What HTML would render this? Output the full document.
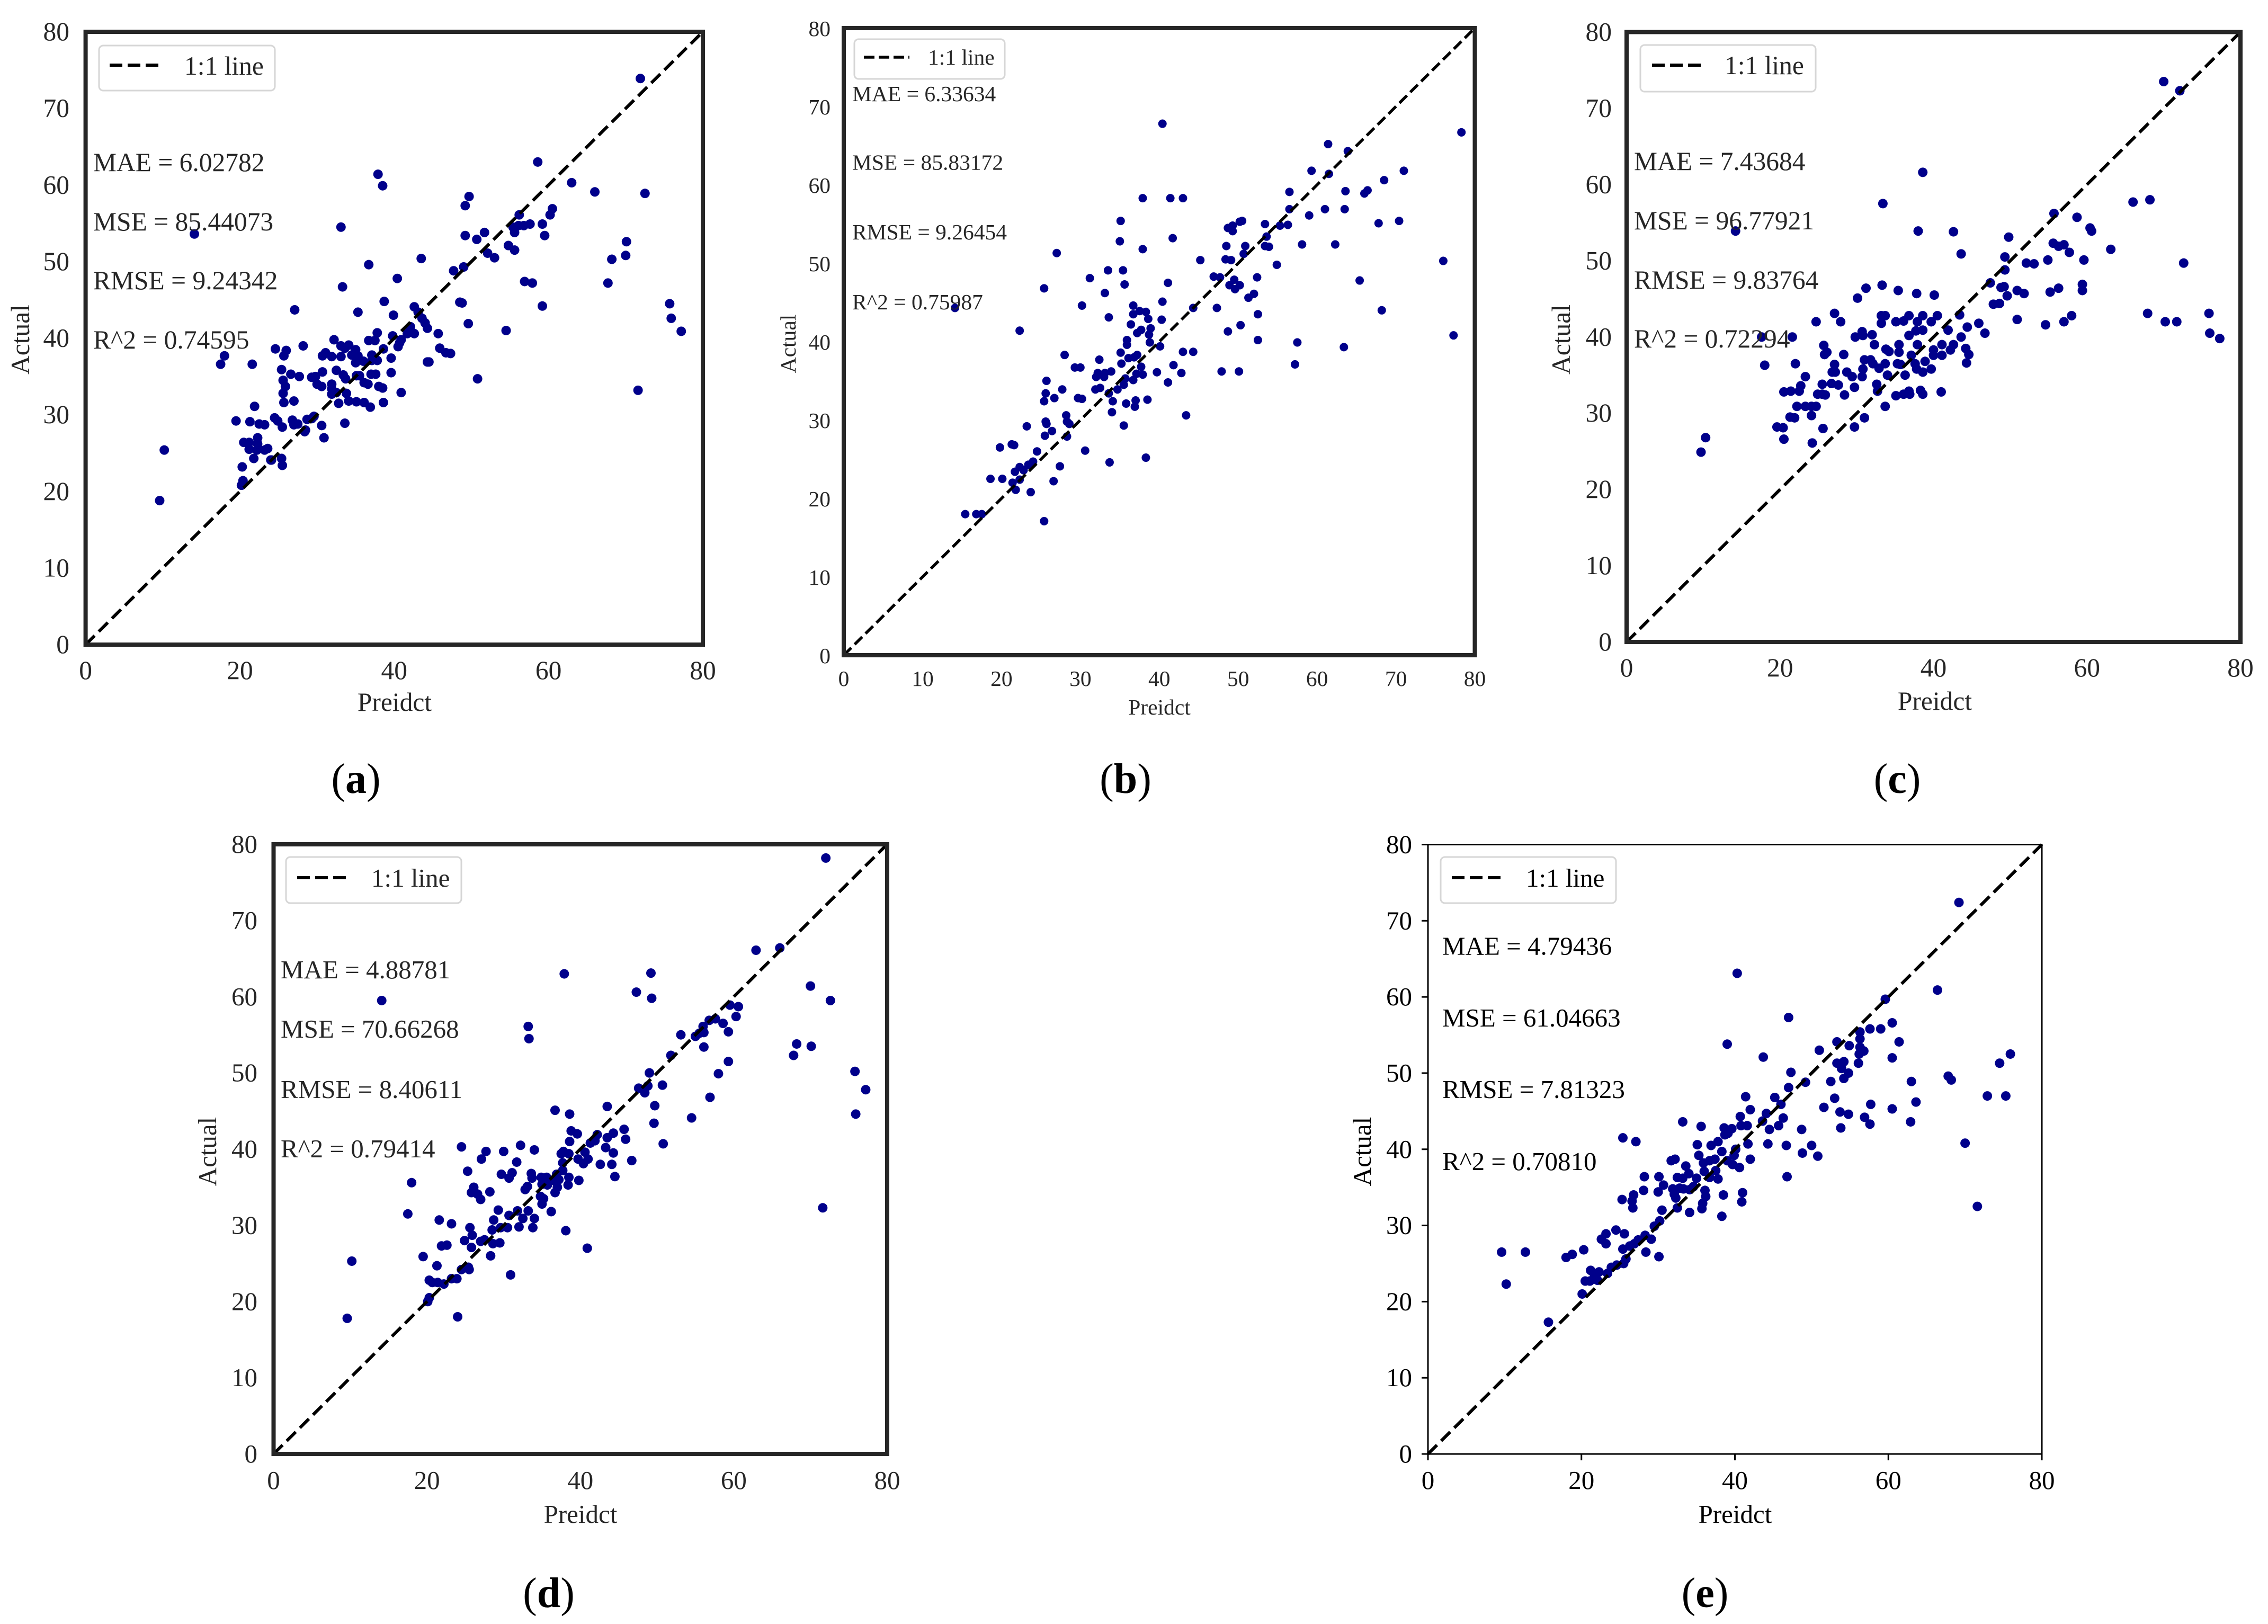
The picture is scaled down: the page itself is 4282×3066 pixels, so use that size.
<!DOCTYPE html>
<html lang="en">
<head>
<meta charset="utf-8">
<title>Predicted vs actual scatter plots</title>
<style>
html,body{margin:0;padding:0;background:#fff;}
svg{display:block;}
text{font-family:"Liberation Serif","Times New Roman",serif;fill:#262626;}
.dark text{fill:#000;}
.cap{font-size:80px;fill:#000;}
.cap tspan.b{font-weight:bold;}
</style>
</head>
<body>
<svg xmlns="http://www.w3.org/2000/svg" width="4282" height="3066" viewBox="0 0 4282 3066">
<rect width="4282" height="3066" fill="#fff"/>

<g font-size="49.5">
  <g id="marks-a"></g>
  <rect x="161.6" y="60" width="1165.4" height="1157" fill="none" stroke="#262626" stroke-width="8"/>
  <g id="ticks-a"></g>
  <g>
    <rect x="187" y="86" width="332" height="85" rx="8" fill="#fff" stroke="#d6d6d6" stroke-width="3"/>
    <line x1="207" y1="123" x2="299" y2="123" stroke="#000" stroke-width="6" stroke-dasharray="24 10"/>
    <text x="348" y="141">1:1 line</text>
  </g>
  <text x="176" y="323">MAE = 6.02782</text>
  <text x="176" y="435">MSE = 85.44073</text>
  <text x="176" y="546">RMSE = 9.24342</text>
  <text x="176" y="658">R^2 = 0.74595</text>
  <text x="745" y="1342" text-anchor="middle">Preidct</text>
  <text transform="translate(55,641) rotate(-90)" text-anchor="middle">Actual</text>
  <text class="cap" x="672" y="1497" text-anchor="middle">(<tspan class="b">a</tspan>)</text>
</g>

<g font-size="41.5">
  <g id="marks-b"></g>
  <rect x="1593" y="53" width="1191.5" height="1184" fill="none" stroke="#262626" stroke-width="8"/>
  <g id="ticks-b"></g>
  <g>
    <rect x="1613" y="74" width="284" height="75" rx="8" fill="#fff" stroke="#d6d6d6" stroke-width="3"/>
    <line x1="1631" y1="108" x2="1717" y2="108" stroke="#000" stroke-width="5.5" stroke-dasharray="20 8"/>
    <text x="1752" y="122">1:1 line</text>
  </g>
  <text x="1609" y="191">MAE = 6.33634</text>
  <text x="1609" y="320.5">MSE = 85.83172</text>
  <text x="1609" y="452">RMSE = 9.26454</text>
  <text x="1609" y="584">R^2 = 0.75987</text>
  <text x="2189" y="1349" text-anchor="middle">Preidct</text>
  <text transform="translate(1502,649) rotate(-90)" text-anchor="middle">Actual</text>
  <text class="cap" x="2125" y="1497" text-anchor="middle">(<tspan class="b">b</tspan>)</text>
</g>

<g font-size="49.5">
  <g id="marks-c"></g>
  <rect x="3071" y="60.5" width="1159" height="1151.5" fill="none" stroke="#262626" stroke-width="8"/>
  <g id="ticks-c"></g>
  <g>
    <rect x="3097" y="85" width="331" height="88" rx="8" fill="#fff" stroke="#d6d6d6" stroke-width="3"/>
    <line x1="3119" y1="123" x2="3217" y2="123" stroke="#000" stroke-width="6" stroke-dasharray="24 10"/>
    <text x="3256" y="140">1:1 line</text>
  </g>
  <text x="3085" y="321">MAE = 7.43684</text>
  <text x="3085" y="433">MSE = 96.77921</text>
  <text x="3085" y="545">RMSE = 9.83764</text>
  <text x="3085" y="656">R^2 = 0.72294</text>
  <text x="3653" y="1340" text-anchor="middle">Preidct</text>
  <text transform="translate(2964,641) rotate(-90)" text-anchor="middle">Actual</text>
  <text class="cap" x="3582" y="1497" text-anchor="middle">(<tspan class="b">c</tspan>)</text>
</g>

<g font-size="49">
  <g id="marks-d"></g>
  <rect x="516.5" y="1594" width="1158.5" height="1151" fill="none" stroke="#262626" stroke-width="8"/>
  <g id="ticks-d"></g>
  <g>
    <rect x="540" y="1618" width="331" height="87" rx="8" fill="#fff" stroke="#d6d6d6" stroke-width="3"/>
    <line x1="561" y1="1657" x2="658" y2="1657" stroke="#000" stroke-width="6" stroke-dasharray="24 10"/>
    <text x="701" y="1674">1:1 line</text>
  </g>
  <text x="530" y="1847">MAE = 4.88781</text>
  <text x="530" y="1959">MSE = 70.66268</text>
  <text x="530" y="2073">RMSE = 8.40611</text>
  <text x="530" y="2185">R^2 = 0.79414</text>
  <text x="1096" y="2875" text-anchor="middle">Preidct</text>
  <text transform="translate(408,2174) rotate(-90)" text-anchor="middle">Actual</text>
  <text class="cap" x="1036" y="3034" text-anchor="middle">(<tspan class="b">d</tspan>)</text>
</g>

<g class="dark" font-size="49">
  <g id="marks-e"></g>
  <rect x="2696" y="1594.5" width="1159" height="1150.5" fill="none" stroke="#000" stroke-width="3"/>
  <g id="ticks-e"></g>
  <g>
    <rect x="2720" y="1618" width="331" height="87" rx="8" fill="#fff" stroke="#d6d6d6" stroke-width="3"/>
    <line x1="2741" y1="1657" x2="2838" y2="1657" stroke="#000" stroke-width="6" stroke-dasharray="24 10"/>
    <text x="2881" y="1674">1:1 line</text>
  </g>
  <text x="2723" y="1802.5">MAE = 4.79436</text>
  <text x="2723" y="1938">MSE = 61.04663</text>
  <text x="2723" y="2073">RMSE = 7.81323</text>
  <text x="2723" y="2209">R^2 = 0.70810</text>
  <text x="3276" y="2875" text-anchor="middle">Preidct</text>
  <text transform="translate(2588,2174) rotate(-90)" text-anchor="middle">Actual</text>
  <text class="cap" x="3219" y="3034" text-anchor="middle">(<tspan class="b">e</tspan>)</text>
</g>
</svg>

<script>
const xTicksCoarse = [0, 20, 40, 60, 80];
const xTicksFine = [0, 10, 20, 30, 40, 50, 60, 70, 80];
const yTicks = [0, 10, 20, 30, 40, 50, 60, 70, 80];
const lineEnds = [0, 80];

const predictedA = [9.6,10.2,14.1,17.5,18.0,19.5,20.2,20.4,20.3,20.5,21.2,21.2,21.3,21.6,21.8,21.9,22.2,22.3,22.3,22.5,23.2,23.2,23.6,24.0,24.1,24.6,24.5,24.9,25.4,25.5,25.4,25.5,25.6,25.6,25.7,25.9,25.7,26.0,26.6,26.8,27.0,27.1,27.0,27.5,27.7,28.2,28.4,28.5,28.7,29.3,29.3,29.8,29.6,30.0,30.6,30.7,30.6,30.9,30.7,31.1,31.9,32.2,31.9,31.9,31.9,32.5,32.5,32.8,33.1,33.1,33.1,33.3,33.4,33.7,33.8,33.6,33.6,34.1,34.1,34.5,35.0,35.3,35.0,35.1,35.1,35.5,35.3,36.0,36.1,36.1,36.6,36.7,36.7,36.9,37.0,37.1,37.1,37.6,37.5,37.8,37.8,37.9,38.0,38.5,38.5,38.6,38.7,38.6,39.6,39.6,39.9,39.8,40.4,40.5,40.7,40.9,40.9,41.7,42.1,42.6,42.6,43.1,43.5,43.6,44.0,44.3,44.3,44.5,45.7,45.9,46.7,47.3,47.7,48.5,48.8,49.0,49.2,49.2,49.6,49.7,50.7,50.8,51.7,52.1,53.0,54.5,54.8,55.4,55.6,55.6,56.2,56.1,56.8,56.9,57.6,57.9,58.6,59.2,59.2,59.5,60.2,60.5,63.0,66.0,67.7,68.2,70.0,70.1,71.6,71.9,72.5,75.7,75.9,77.2];
const actualA = [18.8,25.4,53.6,36.6,37.7,29.2,20.8,21.4,23.2,26.4,26.4,25.5,29.1,36.6,24.3,31.1,25.4,27.0,26.2,28.8,28.7,25.4,25.6,24.1,24.1,38.6,29.6,29.2,24.3,23.4,35.9,28.4,34.5,32.8,31.6,33.7,37.7,38.4,35.3,29.3,31.8,43.7,28.7,28.8,35.0,39.0,27.8,28.0,29.4,34.9,29.5,35.0,29.8,34.0,33.7,35.6,28.6,27.0,37.7,38.1,37.6,39.8,34.0,33.4,32.7,35.8,32.9,31.5,37.6,39.0,54.5,46.7,35.2,34.7,32.8,28.9,38.7,39.1,31.8,37.8,38.5,37.7,36.8,31.7,35.1,35.1,43.4,37.0,31.6,34.2,34.0,49.6,39.7,31.0,35.3,37.8,37.1,35.3,39.7,40.7,37.1,61.4,33.7,59.9,33.5,31.6,44.8,38.6,37.4,35.5,43.0,40.3,47.8,38.9,39.4,39.8,32.9,40.6,41.5,40.6,44.1,43.4,50.4,42.6,42.0,41.3,36.9,36.9,40.6,38.7,38.1,38.0,48.8,44.7,44.6,49.3,57.3,53.4,41.9,58.5,52.9,34.7,53.8,51.1,50.5,41.0,52.1,54.5,51.5,53.8,56.1,54.7,54.7,47.4,54.9,47.2,63.0,54.9,44.2,53.4,56.1,56.9,60.3,59.1,47.2,50.3,50.8,52.6,33.2,73.9,58.9,44.5,42.6,40.9];

const predictedB = [14.1,15.4,16.8,17.5,18.6,19.8,20.1,21.3,21.6,21.4,21.7,21.8,22.3,22.3,22.3,22.8,23.2,23.4,23.7,24.0,24.5,25.4,25.4,25.4,25.5,25.6,25.6,25.7,25.7,26.4,26.6,26.7,27.0,27.4,27.7,28.0,28.2,28.3,28.3,28.6,29.3,29.7,30.0,30.2,30.2,30.6,31.2,31.9,32.0,32.2,32.4,32.5,33.0,33.1,33.1,33.5,33.6,33.7,33.6,33.9,34.0,34.1,34.7,35.0,35.1,35.1,35.2,35.4,35.5,35.5,35.6,35.8,35.7,35.9,35.9,36.1,36.4,36.7,36.7,36.7,36.8,36.9,37.0,37.1,37.2,37.2,37.5,37.7,37.7,37.9,37.9,37.9,38.3,38.3,38.5,38.6,38.7,38.9,38.8,39.7,40.1,40.3,40.4,40.4,41.1,41.1,41.4,41.7,41.8,42.8,43.0,43.0,43.4,44.3,44.3,45.2,46.9,47.3,47.7,47.9,48.4,48.5,48.7,48.7,48.9,49.1,49.3,49.3,49.5,49.6,50.1,50.2,50.3,50.2,50.5,50.7,50.9,51.3,52.0,52.4,52.5,52.5,53.4,53.4,53.6,53.9,54.9,55.3,56.3,56.5,56.5,57.2,57.5,58.1,59.0,59.3,61.0,61.4,61.5,62.3,63.4,63.5,63.6,63.9,65.4,66.0,66.4,67.8,68.2,68.5,70.4,71.0,76.0,77.3,78.3];
const actualB = [44.3,18.0,18.0,18.0,22.5,26.5,22.5,26.9,26.8,22.0,23.4,21.1,22.4,41.4,24.0,23.6,29.2,24.3,20.8,24.7,26.0,17.1,32.4,46.8,28.0,29.8,33.4,35.0,29.5,28.6,22.2,32.8,51.3,24.1,33.9,38.3,30.6,29.8,27.9,29.5,36.7,32.8,36.7,32.7,44.6,26.1,48.1,33.9,35.5,36.0,37.7,34.1,35.5,46.2,36.0,49.1,33.4,24.6,43.1,36.2,31.0,32.4,33.9,52.8,55.4,38.6,37.2,49.1,29.3,34.5,47.3,32.1,35.3,40.2,39.6,37.9,42.2,44.6,43.5,35.1,38.0,31.7,32.5,35.9,41.1,38.3,43.9,41.5,36.8,35.8,58.3,51.8,43.8,25.2,32.6,42.9,40.9,41.7,39.9,36.1,39.4,42.8,67.8,45.1,47.5,34.8,58.3,53.2,37.0,36.0,38.7,58.3,30.6,38.7,44.3,50.4,48.3,44.3,48.2,36.2,50.5,52.2,41.3,54.5,47.2,50.4,54.1,54.8,47.9,46.7,36.2,47.2,42.1,55.3,55.4,51.2,52.2,45.6,46.1,48.2,43.5,40.2,55.0,52.2,53.4,52.1,49.8,54.8,54.9,56.9,59.1,37.1,39.9,52.4,56.1,61.8,56.9,65.2,61.4,52.4,39.3,56.9,59.2,64.3,47.8,58.9,59.3,55.1,44.0,60.6,55.4,61.8,50.3,40.8,66.7];

const predictedC = [9.7,10.3,14.2,17.6,18.0,19.6,20.5,20.4,20.5,21.4,21.3,21.6,21.9,22.0,22.2,22.5,22.7,23.3,23.3,24.1,24.1,24.2,24.7,24.7,24.9,25.5,25.5,25.6,25.7,25.9,25.8,26.1,26.8,26.7,27.1,27.1,27.2,27.6,27.9,28.3,28.4,28.7,29.4,29.7,29.7,29.8,30.1,30.7,30.7,30.8,30.8,31.0,31.0,31.2,31.8,32.0,32.1,32.3,32.6,32.7,32.9,33.2,33.2,33.4,33.3,33.7,33.7,33.7,33.8,34.0,34.2,35.1,35.1,35.3,35.4,35.5,35.5,35.7,36.1,36.1,36.3,36.8,36.8,36.8,36.9,37.1,37.6,37.7,37.8,37.9,37.9,37.8,38.0,38.3,38.6,38.6,38.6,38.6,38.6,38.9,39.7,39.7,40.0,40.1,40.0,40.5,41.1,41.0,41.1,41.9,42.2,42.6,42.6,43.4,43.6,43.6,44.2,44.4,44.3,44.6,45.9,46.7,47.4,47.8,48.6,48.8,49.2,49.3,49.3,49.6,49.8,50.9,50.9,51.8,52.1,53.1,54.6,54.9,55.2,55.7,55.6,56.3,56.3,57.0,57.0,57.7,58.0,58.7,59.4,59.4,59.6,60.4,60.6,63.1,66.0,67.9,68.2,70.0,70.2,71.7,72.1,72.6,75.9,76.0,77.3];
const actualC = [24.9,26.8,53.9,40.0,36.3,28.2,26.6,28.1,32.8,32.9,29.5,40.0,29.4,36.5,30.9,32.9,33.6,34.8,30.9,30.9,29.7,26.1,30.9,42.0,32.5,33.8,32.5,28.0,38.9,32.4,37.7,38.0,35.4,33.9,36.4,43.1,35.4,33.7,42.0,37.7,32.4,35.4,34.8,28.2,33.4,40.0,45.1,34.8,40.7,35.8,40.2,29.4,37.0,46.4,37.0,40.3,36.5,39.0,33.8,32.9,35.9,41.8,42.8,57.5,46.8,42.8,30.9,36.5,38.4,35.0,38.1,32.3,42.0,36.5,46.1,39.0,38.0,36.4,32.5,42.1,35.0,32.9,40.2,42.8,32.5,37.6,36.5,40.8,45.7,42.0,39.0,35.8,53.9,33.0,40.9,61.6,42.8,32.5,35.4,36.8,35.8,42.0,38.3,45.5,37.6,42.8,39.0,32.8,37.6,40.9,38.3,53.8,39.0,42.9,50.9,40.0,38.5,41.3,36.6,37.7,41.8,40.5,47.1,44.3,44.4,46.5,46.6,48.8,50.5,45.4,53.1,42.3,46.1,45.7,49.7,49.6,41.6,50.1,45.9,56.2,52.3,46.4,51.9,52.1,42.0,51.1,42.8,55.7,46.9,46.1,50.1,54.3,53.9,51.5,57.7,43.1,58.0,73.5,42.0,42.0,72.3,49.7,43.1,40.5,39.8];

const predictedD = [9.6,10.2,14.1,17.5,18.0,19.5,20.1,20.3,20.3,20.7,21.4,21.3,21.6,21.9,22.2,22.6,23.2,23.2,23.9,24.0,24.5,24.5,24.9,25.3,25.4,25.5,25.6,25.8,25.8,25.9,26.1,26.6,27.0,27.1,27.0,27.5,27.7,28.2,28.3,28.6,28.7,28.5,29.3,29.5,29.6,29.7,30.0,30.5,30.7,30.7,31.1,30.9,31.7,32.0,32.2,31.8,32.5,32.8,33.1,33.2,33.3,33.2,33.6,33.7,33.8,34.0,34.0,34.8,34.9,35.0,35.0,35.2,35.6,35.7,36.2,36.3,36.7,36.7,36.9,37.0,37.2,37.5,37.7,37.7,37.8,37.9,38.1,38.4,38.5,38.5,38.6,38.6,38.8,39.6,39.8,39.7,40.4,40.6,40.9,41.0,41.3,41.9,42.2,42.6,43.3,43.5,43.5,44.1,44.3,44.3,44.5,45.7,45.9,46.7,47.3,47.6,48.4,48.8,49.0,49.2,49.3,49.6,49.7,50.7,50.8,51.8,53.1,54.5,55.0,55.5,56.0,56.1,56.1,56.8,56.9,57.6,58.0,58.6,59.3,59.3,59.5,60.3,60.6,62.9,66.0,67.8,68.2,70.0,70.1,71.6,72.0,72.6,75.8,75.9,77.2];
const actualD = [17.8,25.3,59.5,31.5,35.6,25.9,20.0,20.5,22.8,22.5,22.5,24.7,30.7,27.3,22.3,27.4,30.2,23.0,23.0,18.0,40.3,24.2,28.0,37.1,24.5,24.2,29.7,34.3,27.1,28.7,35.0,34.1,33.4,38.7,27.9,28.1,39.7,34.4,26.0,27.6,30.7,29.4,32.0,27.7,29.7,36.7,39.7,29.7,31.3,36.2,36.9,23.5,38.3,29.8,40.5,31.9,30.9,34.7,35.1,56.1,54.5,31.9,36.8,36.2,29.7,30.9,39.9,33.8,36.3,35.4,32.8,33.5,36.3,35.3,31.8,35.9,45.1,34.3,36.7,35.0,36.0,39.4,38.2,37.2,39.7,63.0,29.3,35.3,36.3,39.4,44.6,41.0,42.4,42.0,35.9,38.7,38.1,39.6,27.0,38.7,40.8,41.1,41.9,38.0,40.2,45.6,41.5,38.0,42.1,39.5,36.4,42.6,41.3,38.5,60.6,48.0,47.4,48.3,50.0,63.1,59.8,43.4,45.7,48.4,40.7,52.3,55.0,44.1,54.8,55.2,56.1,53.4,55.3,56.9,46.8,57.1,49.9,56.5,55.4,51.5,58.9,57.4,58.7,66.1,66.4,52.3,53.8,61.4,53.5,32.3,78.2,59.5,50.2,44.6,47.8];

const predictedE = [9.6,10.2,12.7,15.7,18.0,18.8,20.1,20.3,20.5,21.2,21.1,21.7,22.1,22.3,22.6,23.2,23.2,23.4,23.9,24.5,24.6,25.3,25.4,25.4,25.5,25.6,25.8,26.3,26.6,26.8,26.7,26.9,27.1,27.4,28.1,28.2,28.3,28.4,29.1,29.5,30.1,30.1,30.0,30.2,30.5,30.7,31.7,32.2,31.9,32.1,32.3,32.5,32.5,32.8,33.2,33.2,33.3,33.6,34.1,34.0,34.1,34.6,35.1,35.0,35.3,35.6,35.7,35.8,35.9,36.0,36.1,36.2,36.7,36.7,36.9,37.5,37.4,37.8,37.8,38.3,38.3,38.5,38.6,38.7,39.0,39.1,39.0,39.6,39.7,39.9,40.1,40.3,40.6,40.7,40.8,40.9,41.0,41.4,41.6,41.7,42.0,42.0,43.6,43.7,44.1,44.3,44.5,45.2,45.7,46.0,46.3,46.7,46.8,47.0,47.0,47.3,48.7,48.8,49.2,50.0,50.8,51.0,51.6,52.5,53.0,53.3,53.3,53.7,53.9,53.8,54.2,54.2,54.8,54.9,54.8,56.1,56.3,56.3,56.2,56.3,56.8,56.9,57.6,57.6,57.7,59.0,59.6,60.5,60.5,60.5,61.4,62.9,63.0,63.6,66.4,67.8,68.2,69.2,70.0,71.6,72.9,74.5,75.3,75.9];
const actualE = [26.5,22.3,26.5,17.3,25.8,26.2,21.0,26.8,22.7,24.1,22.7,23.4,22.8,23.9,28.2,28.9,27.6,23.7,24.5,29.4,24.8,33.4,41.5,26.9,25.0,28.9,25.6,27.3,33.2,34.0,32.3,27.6,41.0,28.1,34.6,36.4,28.7,26.5,28.2,29.9,25.9,36.4,34.4,30.6,32.0,35.3,38.5,38.7,34.8,34.1,33.6,36.3,32.3,34.9,43.6,36.2,34.8,37.8,31.7,36.8,34.7,35.1,40.6,36.2,39.2,43.0,32.2,32.9,38.2,37.1,34.6,33.8,38.5,36.3,40.5,37.2,38.7,41.0,36.1,39.7,31.2,34.0,42.8,41.9,53.8,42.1,38.5,42.7,38.0,39.2,40.0,63.1,37.6,44.3,43.1,33.1,34.3,46.9,43.1,40.7,38.7,45.2,43.7,52.1,44.7,40.7,42.6,46.8,43.1,45.9,44.1,40.5,36.4,57.3,48.1,50.1,42.6,39.5,48.8,40.5,39.1,53.0,45.5,48.9,46.7,51.3,54.1,44.9,50.6,42.8,51.5,49.3,44.6,53.6,50.0,51.3,55.4,54.5,52.5,53.4,52.9,44.2,55.8,43.3,45.9,55.8,59.7,56.6,52.0,45.3,54.1,43.6,48.9,46.2,60.9,49.6,49.1,72.4,40.8,32.5,47.0,51.3,47.0,52.5];

const SVG_NS = 'http://www.w3.org/2000/svg';
const DOMAIN_MAX = 80;

function makeEl(tag, attrs) {
  const el = document.createElementNS(SVG_NS, tag);
  Object.keys(attrs).forEach(function (k) { el.setAttribute(k, attrs[k]); });
  return el;
}

function drawPanel(id, box, style, xs, ys, xTickValues) {
  const sx = function (v) { return box.left + (v / DOMAIN_MAX) * (box.right - box.left); };
  const sy = function (v) { return box.bottom - (v / DOMAIN_MAX) * (box.bottom - box.top); };
  const marks = document.getElementById('marks-' + id);
  const ticks = document.getElementById('ticks-' + id);

  xs.forEach(function (x, i) {
    const dot = makeEl('circle', { cx: sx(x), cy: sy(ys[i]), r: style.r, fill: '#00008b' });
    
    
    marks.appendChild(dot);
  });

  const refLine = makeEl('line', {
    x1: sx(lineEnds[0]), y1: sy(lineEnds[0]), x2: sx(lineEnds[1]), y2: sy(lineEnds[1]),
    stroke: '#000', 'stroke-width': style.lw, 'stroke-dasharray': style.dash
  });
  
  
  marks.appendChild(refLine);

  xTickValues.forEach(function (v) {
    const label = makeEl('text', { x: sx(v), y: style.xTickY, 'text-anchor': 'middle' });
    label.textContent = String(v);
    
    
    ticks.appendChild(label);
    if (style.tickLen) {
      const mark = makeEl('line', { x1: sx(v), x2: sx(v), y1: box.bottom, y2: box.bottom + style.tickLen, stroke: '#000', 'stroke-width': 3 });
      
      
      ticks.appendChild(mark);
    }
  });

  yTicks.forEach(function (v) {
    const label = makeEl('text', { x: style.yTickX, y: sy(v) + style.yTickShift, 'text-anchor': 'end' });
    label.textContent = String(v);
    
    
    ticks.appendChild(label);
    if (style.tickLen) {
      const mark = makeEl('line', { y1: sy(v), y2: sy(v), x1: box.left, x2: box.left - style.tickLen, stroke: '#000', 'stroke-width': 3 });
      
      
      ticks.appendChild(mark);
    }
  });
}

drawPanel('a', { left: 161.6, right: 1327, top: 60, bottom: 1217 },
  { r: 9, lw: 6, dash: '24 11', xTickY: 1282, yTickX: 131, yTickShift: 16 },
  predictedA, actualA, xTicksCoarse);
drawPanel('b', { left: 1593, right: 2784.5, top: 53, bottom: 1237 },
  { r: 8, lw: 5.5, dash: '20 9', xTickY: 1295, yTickX: 1568, yTickShift: 15 },
  predictedB, actualB, xTicksFine);
drawPanel('c', { left: 3071, right: 4230, top: 60.5, bottom: 1212 },
  { r: 9, lw: 6, dash: '24 11', xTickY: 1277, yTickX: 3043, yTickShift: 16 },
  predictedC, actualC, xTicksCoarse);
drawPanel('d', { left: 516.5, right: 1675, top: 1594, bottom: 2745 },
  { r: 9, lw: 6, dash: '24 11', xTickY: 2811, yTickX: 486, yTickShift: 16 },
  predictedD, actualD, xTicksCoarse);
drawPanel('e', { left: 2696, right: 3855, top: 1594.5, bottom: 2745 },
  { r: 9, lw: 6, dash: '24 11', xTickY: 2811, yTickX: 2666, yTickShift: 16, tickLen: 12 },
  predictedE, actualE, xTicksCoarse);
</script>
</body>
</html>
